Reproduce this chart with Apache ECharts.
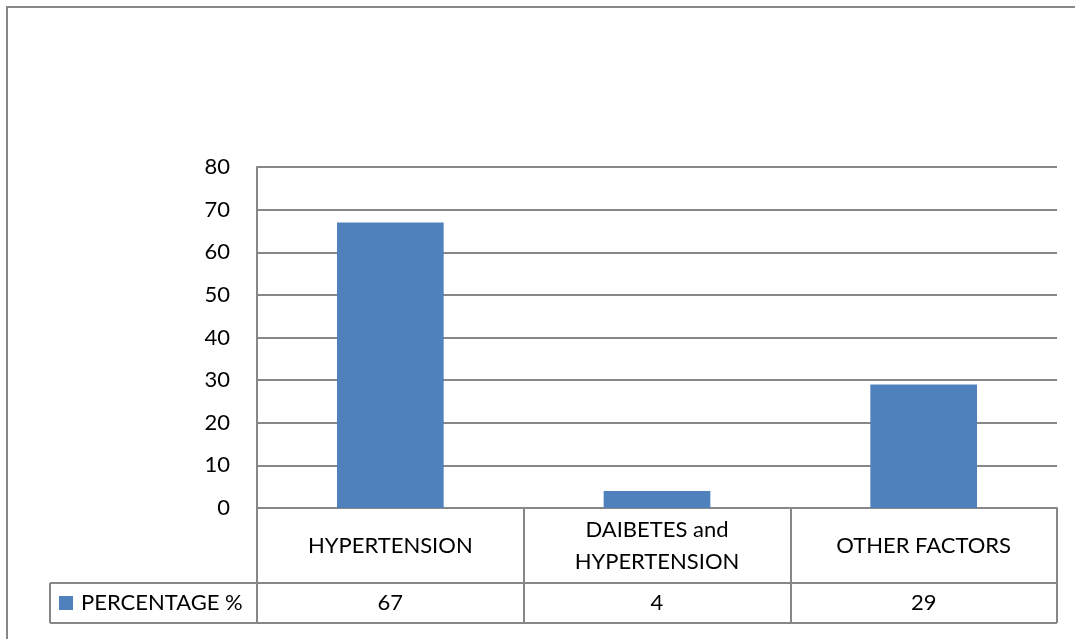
<!DOCTYPE html>
<html>
<head>
<meta charset="utf-8">
<script src="https://cdn.jsdelivr.net/npm/echarts@6/dist/echarts.min.js"></script>
<style>
  html, body { margin: 0; padding: 0; background: #ffffff; }
  #chart { width: 1075px; height: 639px; }
</style>
</head>
<body>
<div id="chart"></div>
<script>
// Chart data
const categories = ['HYPERTENSION', 'DAIBETES and\nHYPERTENSION', 'OTHER FACTORS'];
const seriesName = 'PERCENTAGE %';
const percentages = [67, 4, 29];
const yTicks = { min: 0, max: 80, interval: 10 };

// Layout of plot area and data table
const plotLeft = 257, plotRight = 1057, plotTop = 167, plotBottom = 508;
const catRowBottom = 583, valRowBottom = 623, tableLeft = 50;
const lineColor = '#878787';
const fontFamily = 'Lato, "Open Sans", sans-serif';
const fontSize = 22;

const chart = echarts.init(document.getElementById('chart'), null, { renderer: 'canvas' });

chart.setOption({
  backgroundColor: '#ffffff',
  animation: false,
  textStyle: { fontFamily: fontFamily },
  grid: {
    left: plotLeft,
    right: 1075 - plotRight,
    top: plotTop,
    bottom: 639 - plotBottom,
    containLabel: false
  },
  legend: {
    show: true,
    left: 59,
    top: 592,
    padding: 0,
    icon: 'rect',
    itemWidth: 14,
    itemHeight: 14,
    itemGap: 0,
    data: [seriesName],
    textStyle: { fontFamily: fontFamily, fontSize: fontSize, color: '#000000', lineHeight: 22, padding: [0, 0, 0, 3] }
  },
  xAxis: [
    {
      type: 'category',
      data: categories,
      boundaryGap: true,
      axisLine: { show: true, lineStyle: { color: lineColor, width: 2 } },
      axisTick: { show: true, interval: 0, length: valRowBottom - plotBottom, lineStyle: { color: lineColor, width: 2 } },
      axisLabel: {
        interval: 0,
        margin: (catRowBottom - plotBottom) / 2,
        verticalAlign: 'middle',
        align: 'center',
        fontFamily: fontFamily,
        fontSize: fontSize,
        lineHeight: 32,
        color: '#000000'
      },
      splitLine: { show: false }
    },
    {
      // value row of the data table
      type: 'category',
      position: 'bottom',
      data: percentages.map(String),
      boundaryGap: true,
      axisLine: { show: false },
      axisTick: { show: false },
      axisLabel: {
        interval: 0,
        margin: (catRowBottom + valRowBottom) / 2 - plotBottom,
        verticalAlign: 'middle',
        align: 'center',
        fontFamily: fontFamily,
        fontSize: fontSize,
        color: '#000000'
      },
      splitLine: { show: false }
    }
  ],
  yAxis: {
    type: 'value',
    min: yTicks.min,
    max: yTicks.max,
    interval: yTicks.interval,
    axisLine: { show: true, lineStyle: { color: lineColor, width: 2 } },
    axisTick: { show: false },
    axisLabel: {
      margin: 27,
      fontFamily: fontFamily,
      fontSize: fontSize,
      color: '#000000'
    },
    splitLine: { show: true, lineStyle: { color: lineColor, width: 2 } }
  },
  series: [
    {
      name: seriesName,
      type: 'bar',
      xAxisIndex: 0,
      data: percentages,
      barWidth: '40%',
      itemStyle: { color: '#4F81BD' }
    }
  ],
  graphic: [
    // outer chart frame
    { type: 'rect', silent: true, shape: { x: 7, y: 7, width: 1200, height: 800 },
      style: { fill: 'none', stroke: lineColor, lineWidth: 2 } },
    // data table frame
    { type: 'line', silent: true, shape: { x1: tableLeft, y1: catRowBottom, x2: plotRight, y2: catRowBottom },
      style: { stroke: lineColor, lineWidth: 2 } },
    { type: 'line', silent: true, shape: { x1: tableLeft, y1: valRowBottom, x2: plotRight, y2: valRowBottom },
      style: { stroke: lineColor, lineWidth: 2 } },
    { type: 'line', silent: true, shape: { x1: tableLeft, y1: catRowBottom, x2: tableLeft, y2: valRowBottom },
      style: { stroke: lineColor, lineWidth: 2 } }
  ]
});
</script>
</body>
</html>
